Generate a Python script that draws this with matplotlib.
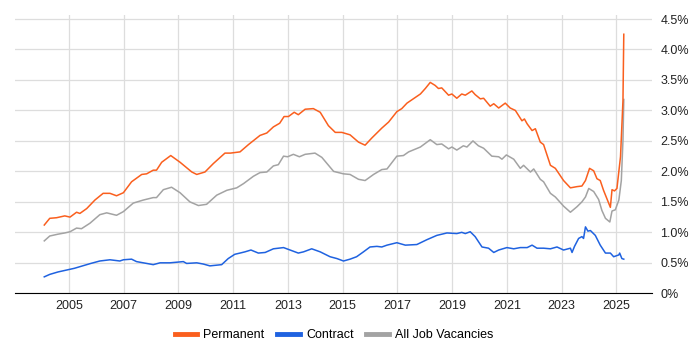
import matplotlib.pyplot as plt
from matplotlib.ticker import FuncFormatter

# ===============================
# Data
# ===============================
perm_x = [2004.1, 2004.3, 2004.55, 2004.85, 2005.04, 2005.28, 2005.4, 2005.65, 2005.95, 2006.25,
          2006.5, 2006.74, 2006.99, 2007.29, 2007.66, 2007.84, 2008.08, 2008.2, 2008.39, 2008.72,
          2009.06, 2009.49, 2009.67, 2009.97, 2010.28, 2010.7, 2010.9, 2011.25, 2011.56, 2011.98,
          2012.23, 2012.47, 2012.7, 2012.86, 2013.02, 2013.23, 2013.38, 2013.63, 2013.93, 2014.18,
          2014.48, 2014.73, 2014.97, 2015.27, 2015.58, 2015.82, 2016.07, 2016.43, 2016.68, 2016.98,
          2017.16, 2017.35, 2017.84, 2018.02, 2018.2, 2018.38, 2018.5, 2018.62, 2018.87, 2018.99,
          2019.17, 2019.35, 2019.48, 2019.72, 2019.84, 2020.03, 2020.15, 2020.39, 2020.52, 2020.7,
          2020.94, 2021.12, 2021.31, 2021.55, 2021.64, 2021.74, 2021.92, 2022.04, 2022.22, 2022.34,
          2022.59, 2022.77, 2023.07, 2023.32, 2023.56, 2023.74, 2023.87, 2024.02, 2024.17, 2024.29,
          2024.41, 2024.53, 2024.78, 2024.84, 2024.93, 2025.02, 2025.15, 2025.24, 2025.27]
perm_y = [1.12, 1.23, 1.24, 1.27, 1.25, 1.33, 1.31, 1.39, 1.53, 1.64,
          1.64, 1.60, 1.65, 1.83, 1.95, 1.96, 2.02, 2.02, 2.15, 2.26,
          2.15, 1.99, 1.95, 1.99, 2.13, 2.30, 2.30, 2.32, 2.44, 2.59,
          2.63, 2.73, 2.79, 2.90, 2.90, 2.97, 2.93, 3.02, 3.03, 2.97,
          2.75, 2.64, 2.64, 2.60, 2.48, 2.43, 2.55, 2.71, 2.81, 2.98,
          3.03, 3.12, 3.27, 3.36, 3.46, 3.41, 3.36, 3.37, 3.25, 3.27,
          3.20, 3.27, 3.25, 3.32, 3.26, 3.19, 3.20, 3.07, 3.11, 3.04,
          3.12, 3.04, 3.00, 2.83, 2.86, 2.78, 2.67, 2.70, 2.48, 2.44,
          2.10, 2.05, 1.85, 1.73, 1.75, 1.76, 1.85, 2.05, 2.01, 1.88,
          1.85, 1.69, 1.41, 1.70, 1.68, 1.72, 2.24, 3.16, 4.25]

cont_x = [2004.1, 2004.3, 2004.6, 2004.9, 2005.2, 2005.5, 2005.8, 2006.13, 2006.5, 2006.86,
          2006.99, 2007.29, 2007.47, 2007.84, 2008.08, 2008.33, 2008.69, 2009.18, 2009.3, 2009.67,
          2009.91, 2010.15, 2010.58, 2010.82, 2011.06, 2011.25, 2011.43, 2011.65, 2011.92, 2012.17,
          2012.47, 2012.84, 2013.08, 2013.38, 2013.57, 2013.87, 2014.18, 2014.54, 2014.79, 2015.03,
          2015.27, 2015.51, 2015.76, 2016.0, 2016.25, 2016.43, 2016.62, 2016.98, 2017.29, 2017.71,
          2018.08, 2018.44, 2018.81, 2019.17, 2019.35, 2019.48, 2019.66, 2019.84, 2020.09, 2020.33,
          2020.52, 2020.7, 2021.0, 2021.25, 2021.49, 2021.74, 2021.92, 2022.1, 2022.34, 2022.59,
          2022.83, 2023.07, 2023.32, 2023.38, 2023.47, 2023.62, 2023.74, 2023.8, 2023.87, 2023.96,
          2024.05, 2024.23, 2024.41, 2024.6, 2024.78, 2024.9, 2025.09, 2025.12, 2025.2, 2025.27]
cont_y = [0.27, 0.31, 0.35, 0.38, 0.41, 0.45, 0.49, 0.53, 0.55, 0.53,
          0.55, 0.56, 0.52, 0.49, 0.47, 0.50, 0.50, 0.52, 0.49, 0.50,
          0.48, 0.45, 0.47, 0.57, 0.64, 0.66, 0.68, 0.71, 0.66, 0.67,
          0.73, 0.75, 0.71, 0.66, 0.68, 0.73, 0.68, 0.60, 0.57, 0.53,
          0.56, 0.60, 0.68, 0.76, 0.77, 0.76, 0.79, 0.83, 0.79, 0.80,
          0.88, 0.95, 0.99, 0.98, 1.00, 0.98, 1.01, 0.93, 0.76, 0.74,
          0.67, 0.71, 0.75, 0.73, 0.75, 0.75, 0.79, 0.74, 0.74, 0.73,
          0.76, 0.71, 0.74, 0.67, 0.77, 0.90, 0.93, 0.90, 1.09, 1.02,
          1.03, 0.95, 0.79, 0.66, 0.66, 0.60, 0.63, 0.66, 0.57, 0.56]

all_x = [2004.1, 2004.3, 2004.6, 2004.85, 2005.04, 2005.28, 2005.46, 2005.77, 2006.13, 2006.38,
         2006.74, 2006.99, 2007.35, 2007.72, 2008.08, 2008.2, 2008.45, 2008.75, 2009.06, 2009.42,
         2009.73, 2010.03, 2010.4, 2010.77, 2011.13, 2011.38, 2011.74, 2011.98, 2012.23, 2012.47,
         2012.65, 2012.84, 2012.99, 2013.2, 2013.42, 2013.63, 2013.99, 2014.24, 2014.67, 2015.03,
         2015.27, 2015.58, 2015.82, 2016.13, 2016.43, 2016.62, 2016.98, 2017.22, 2017.41, 2017.84,
         2018.2, 2018.44, 2018.62, 2018.87, 2018.99, 2019.17, 2019.41, 2019.54, 2019.76, 2019.96,
         2020.15, 2020.45, 2020.7, 2020.82, 2020.98, 2021.25, 2021.49, 2021.61, 2021.86, 2021.98,
         2022.22, 2022.34, 2022.59, 2022.77, 2023.07, 2023.32, 2023.56, 2023.74, 2023.87, 2023.99,
         2024.17, 2024.35, 2024.47, 2024.6, 2024.76, 2024.84, 2024.96, 2025.09, 2025.18, 2025.24,
         2025.27]
all_y = [0.86, 0.94, 0.97, 0.99, 1.01, 1.07, 1.06, 1.15, 1.29, 1.32,
         1.28, 1.34, 1.48, 1.53, 1.57, 1.57, 1.70, 1.74, 1.65, 1.50,
         1.44, 1.46, 1.61, 1.69, 1.73, 1.80, 1.92, 1.98, 1.99, 2.09,
         2.11, 2.25, 2.24, 2.28, 2.24, 2.28, 2.30, 2.23, 2.00, 1.96,
         1.95, 1.87, 1.85, 1.95, 2.03, 2.04, 2.25, 2.26, 2.32, 2.40,
         2.52, 2.44, 2.45, 2.37, 2.40, 2.35, 2.42, 2.40, 2.50, 2.42,
         2.38, 2.25, 2.24, 2.20, 2.27, 2.20, 2.05, 2.10, 1.99, 2.04,
         1.87, 1.83, 1.64, 1.58, 1.43, 1.33, 1.42, 1.50, 1.58, 1.72,
         1.67, 1.54, 1.36, 1.23, 1.17, 1.35, 1.37, 1.53, 1.85, 2.51,
         3.18]

year_ticks = [2005, 2007, 2009, 2011, 2013, 2015, 2017, 2019, 2021, 2023, 2025]
pct_ticks = [0, 0.5, 1.0, 1.5, 2.0, 2.5, 3.0, 3.5, 4.0, 4.5]

# ===============================
# Plot
# ===============================
plt.rcParams['font.family'] = ['Liberation Sans', 'DejaVu Sans']

fig = plt.figure(figsize=(7, 3.5), dpi=100)
ax = fig.add_axes([0.0214, 0.162, 0.91, 0.795])

ax.plot(all_x, all_y, color="#a3a3a3", lw=1.1, label="All Job Vacancies", zorder=3)
ax.plot(cont_x, cont_y, color="#1f62e0", lw=1.1, label="Contract", zorder=3)
ax.plot(perm_x, perm_y, color="#fa5f1e", lw=1.1, label="Permanent", zorder=4)

ax.set_xlim(2003.03, 2026.3)
ax.set_ylim(0, 4.565)
ax.set_xticks(year_ticks)
ax.set_yticks(pct_ticks)
ax.yaxis.set_major_formatter(FuncFormatter(lambda v, p: "0%" if v == 0 else f"{v:.1f}%"))
ax.yaxis.tick_right()

ax.grid(True, color="#dddddd", lw=0.9)
ax.set_axisbelow(True)
for side in ["top", "left", "right"]:
    ax.spines[side].set_visible(False)
ax.spines["bottom"].set_color("black")
ax.tick_params(length=0, labelsize=9, colors="#222222")
ax.tick_params(axis="y", pad=6)
ax.tick_params(axis="x", pad=5)

handles, labels = ax.get_legend_handles_labels()
order = [2, 1, 0]
leg = fig.legend([handles[i] for i in order], [labels[i] for i in order],
                 loc="center", bbox_to_anchor=(0.477, 0.043), ncol=3, frameon=False,
                 fontsize=9, handlelength=1.8, handletextpad=0.5, columnspacing=1.0)
for line in leg.get_lines():
    line.set_linewidth(3.5)

plt.savefig("out.png", dpi=100)
